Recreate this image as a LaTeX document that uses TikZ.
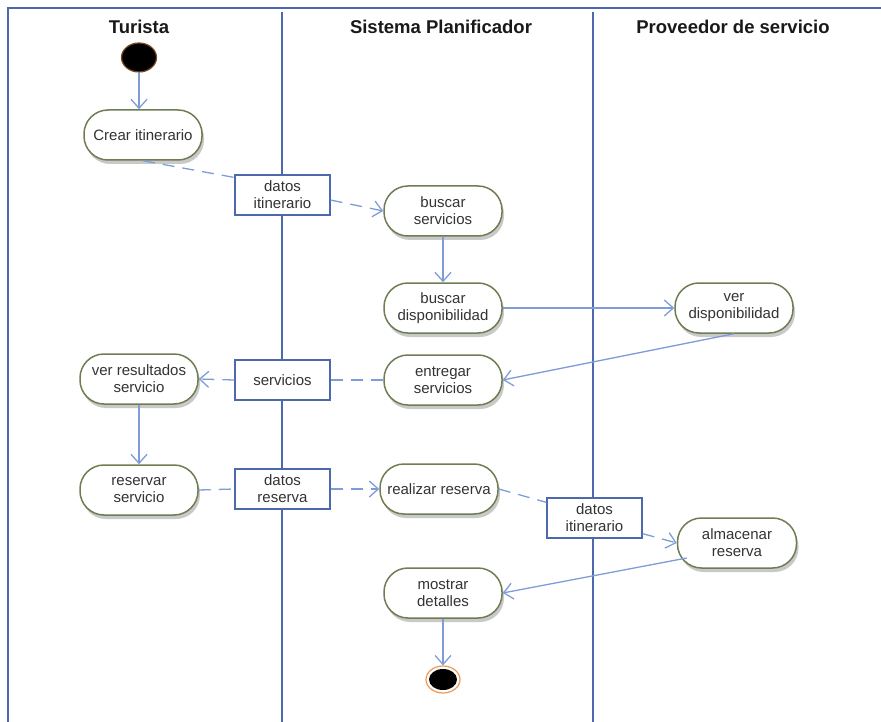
\documentclass[tikz,border=0pt]{standalone}
\usepackage{fontspec}
\setmainfont{Liberation Sans}
\usetikzlibrary{arrows.meta,shadows,shapes.geometric}

\definecolor{laneblue}{HTML}{4D69AE}
\definecolor{flowblue}{HTML}{7E9DD8}
\definecolor{actgreen}{HTML}{6E7D52}
\definecolor{startedge}{HTML}{7A4A1E}
\definecolor{endring}{HTML}{EE9A55}

\begin{document}
\begin{tikzpicture}[x=1pt,y=-1pt,
  lane/.style={draw=laneblue, line width=1.3pt},
  act/.style={draw=actgreen, line width=1.5pt, fill=white, rounded corners=24pt,
    minimum width=118pt, minimum height=50pt, align=center, inner sep=2pt,
    font=\fontsize{15}{17}\selectfont, text=black!80,
    drop shadow={shadow xshift=2pt, shadow yshift=-4pt, opacity=0.3, fill=black!70}},
  obj/.style={draw=laneblue, line width=1.4pt, fill=white, minimum width=95pt,
    minimum height=40pt, align=center, inner sep=2pt,
    font=\fontsize{15}{17}\selectfont, text=black!80},
  head/.style={font=\bfseries\fontsize{18.5}{21}\selectfont, text=black!90},
  flow/.style={draw=flowblue, line width=1.3pt, -{Straight Barb[length=9pt,width=16pt]}},
  dflow/.style={flow, dash pattern=on 12pt off 8pt},
  dlink/.style={draw=flowblue, line width=1.3pt, dash pattern=on 12pt off 8pt}
]
\useasboundingbox (0,0) rectangle (881,722);

% swimlane frame and dividers
\draw[lane] (8,722) -- (8,8) -- (881,8);
\draw[lane] (282,12.5) -- (282,722);
\draw[lane] (593,12.5) -- (593,722);

% lane titles
\node[head] (hT) at (139,27) {Turista};
\node[head] (hS) at (441,27) {Sistema Planificador};
\node[head] (hP) at (733,27) {Proveedor de servicio};

% initial and final states
\node[ellipse, draw=startedge, line width=1.2pt, fill=black, minimum width=35pt, minimum height=29pt, inner sep=0pt] (start) at (139,57.5) {};
\node[ellipse, draw=endring, line width=1.2pt, fill=white, minimum width=34pt, minimum height=27pt, inner sep=0pt] (finish) at (443,679.5) {};
\node[ellipse, fill=black, minimum width=28pt, minimum height=21pt, inner sep=0pt] (finishdot) at (443,679.5) {};

% activities
\node[act] (crear) at (143,135) {Crear itinerario};
\node[act] (bs) at (443,211) {buscar\\servicios};
\node[act] (bd) at (443,308) {buscar\\disponibilidad};
\node[act] (vd) at (734,308) {ver\\disponibilidad};
\node[act] (es) at (443,380) {entregar\\servicios};
\node[act] (vrs) at (139,379) {ver resultados\\servicio};
\node[act] (rs) at (139,490) {reservar\\servicio};
\node[act] (rr) at (439,489) {realizar reserva};
\node[act, minimum width=119pt] (ar) at (737,543) {almacenar\\reserva};
\node[act] (md) at (443,593) {mostrar\\detalles};

% object nodes
\node[obj] (dit1) at (282.5,195) {datos\\itinerario};
\node[obj] (serv) at (282.5,380) {servicios};
\node[obj] (dres) at (282.5,489) {datos\\reserva};
\node[obj] (dit2) at (594.5,518) {datos\\itinerario};

% control flows
\draw[flow] (start) -- (start |- crear.north);
\draw[flow] (bs) -- (bd);
\draw[flow] (bd) -- (vd);
\draw[flow] (vd.south) -- (es.east);
\draw[flow] (vrs) -- (rs);
\draw[flow] ([xshift=10pt,yshift=-15pt]ar.west) -- (md.east);
\draw[flow] (md) -- (finish);

% object flows
\draw[dlink] (crear.south) -- (dit1.160);
\draw[dflow] (dit1.-6) -- (bs.west);
\draw[dlink] (es.west) -- (serv.east);
\draw[dflow] (serv.west) -- (vrs.east);
\draw[dlink] (rs.east) -- (dres.west);
\draw[dflow] (dres.east) -- (rr.west);
\draw[dlink] (rr.east) -- (dit2.162);
\draw[dflow] (dit2.-18) -- (ar.west);
\end{tikzpicture}
\end{document}
